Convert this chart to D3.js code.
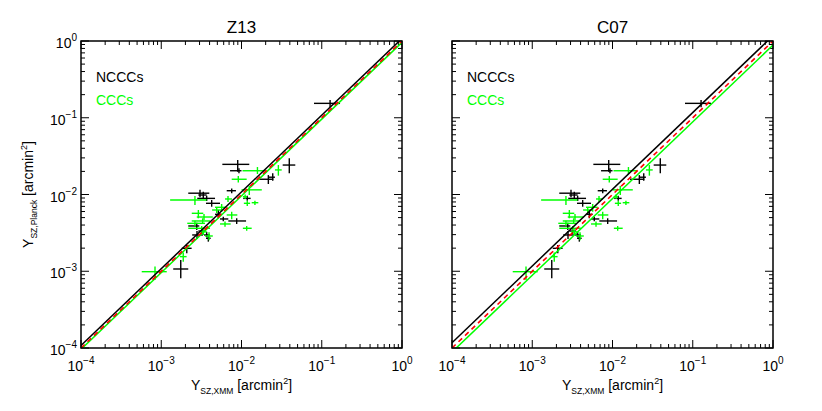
<!DOCTYPE html>
<html><head><meta charset="utf-8">
<script src="https://cdn.jsdelivr.net/npm/d3@7"></script>
<style>body{margin:0;background:#fff}svg{display:block}text{font-family:"Liberation Sans",Arial,sans-serif}</style>
</head><body><svg id="c" width="822" height="411"></svg>
<script>
// ---- data ----
const panelTitles = ["Z13", "C07"];
const ncccNorm = [1.08, 1.17];   // black best-fit normalisation per panel
const cccNorm  = [0.96, 0.885];  // green best-fit normalisation per panel
const tickExps = [-4, -3, -2, -1, 0];
const legendLabels = ["NCCCs", "CCCs"];

const ncccX   = [0.127, 8.97e-3, 9.3e-3, 3.94e-2, 2.16e-2, 2.45e-2, 7.55e-3, 3.04e-3, 3.34e-3, 3.68e-3, 4.25e-3, 1.18e-2, 5.14e-3, 5.93e-3, 8.71e-3, 2.77e-3, 3.19e-3, 3.68e-3, 3.86e-3, 2.79e-3, 2.08e-3, 1.75e-3];
const ncccXlo = [0.080, 5.77e-3, 7.2e-3, 3.26e-2, 1.65e-2, 2.16e-2, 6.54e-3, 2.17e-3, 2.9e-3, 2.81e-3, 3.61e-3, 1.05e-2, 4.68e-3, 5.4e-3, 6.85e-3, 2.17e-3, 2.9e-3, 3.41e-3, 3.61e-3, 2.43e-3, 1.80e-3, 1.41e-3];
const ncccXhi = [0.169, 1.25e-2, 1.0e-2, 4.68e-2, 2.49e-2, 2.61e-2, 8.53e-3, 3.97e-3, 3.68e-3, 4.68e-3, 5.4e-3, 1.30e-2, 5.66e-3, 6.85e-3, 1.14e-2, 2.98e-3, 3.51e-3, 4.05e-3, 4.13e-3, 3.31e-3, 2.39e-3, 2.17e-3];
const ncccY   = [0.154, 2.47e-2, 2.04e-2, 2.42e-2, 1.58e-2, 1.68e-2, 1.12e-2, 1.04e-2, 9.85e-3, 8.9e-3, 7.68e-3, 8.9e-3, 5.52e-3, 4.8e-3, 4.52e-3, 3.89e-3, 3.34e-3, 2.97e-3, 2.69e-3, 2.97e-3, 1.99e-3, 1.07e-3];
const ncccYlo = [0.137, 1.98e-2, 1.89e-2, 1.89e-2, 1.37e-2, 1.51e-2, 1.04e-2, 9.2e-3, 8.9e-3, 8.23e-3, 6.93e-3, 8.3e-3, 4.9e-3, 4.48e-3, 4.13e-3, 3.45e-3, 3.06e-3, 2.77e-3, 2.43e-3, 2.63e-3, 1.71e-3, 8.1e-4];
const ncccYhi = [0.170, 2.81e-2, 2.19e-2, 2.96e-2, 1.79e-2, 1.89e-2, 1.20e-2, 1.15e-2, 1.09e-2, 9.65e-3, 8.48e-3, 9.65e-3, 6.28e-3, 5.14e-3, 4.9e-3, 4.29e-3, 3.63e-3, 3.26e-3, 2.89e-3, 3.34e-3, 2.2e-3, 1.40e-3];

const cccX   = [1.58e-2, 2.88e-2, 9.12e-3, 2.63e-3, 1.25e-2, 1.11e-2, 1.18e-2, 1.47e-2, 5.66e-3, 4.91e-3, 2.9e-3, 7.55e-3, 3.28e-3, 2.63e-3, 6.23e-3, 1.16e-2, 3.19e-3, 3.34e-3, 1.88e-3, 8.36e-4, 3.41e-3, 3.94e-3, 6.79e-3];
const cccXlo = [1.03e-2, 2.61e-2, 7.55e-3, 1.29e-3, 1.0e-2, 1.04e-2, 1.07e-2, 1.34e-2, 4.68e-3, 4.3e-3, 2.4e-3, 6.54e-3, 2.4e-3, 2.11e-3, 5.4e-3, 1.04e-2, 2.17e-3, 3.04e-3, 1.71e-3, 5.71e-4, 2.77e-3, 3.51e-3, 6.23e-3];
const cccXhi = [2.02e-2, 3.17e-2, 1.16e-2, 3.68e-3, 1.79e-2, 1.18e-2, 1.28e-2, 1.62e-2, 6.54e-3, 5.55e-3, 3.34e-3, 8.87e-3, 4.05e-3, 3.51e-3, 7.33e-3, 1.34e-2, 4.05e-3, 3.68e-3, 2.07e-3, 1.17e-3, 4.39e-3, 4.39e-3, 7.62e-3];
const cccY   = [2.04e-2, 2.09e-2, 1.58e-2, 8.48e-3, 1.15e-2, 9.36e-3, 7.68e-3, 7.82e-3, 6.81e-3, 6.28e-3, 5.69e-3, 5.41e-3, 4.52e-3, 4.21e-3, 4.13e-3, 3.63e-3, 3.63e-3, 3.26e-3, 1.55e-3, 9.87e-4, 5.09e-3, 2.88e-3, 8.74e-3];
const cccYlo = [1.85e-2, 1.76e-2, 1.43e-2, 7.3e-3, 9.85e-3, 8.74e-3, 7.08e-3, 7.3e-3, 5.97e-3, 5.74e-3, 4.9e-3, 4.75e-3, 4.13e-3, 3.89e-3, 3.8e-3, 3.37e-3, 3.37e-3, 2.97e-3, 1.33e-3, 7.7e-4, 4.65e-3, 2.54e-3, 7.99e-3];
const cccYhi = [2.28e-2, 2.42e-2, 1.74e-2, 9.56e-3, 1.29e-2, 1.0e-2, 8.3e-3, 8.3e-3, 7.52e-3, 6.87e-3, 6.28e-3, 5.97e-3, 4.9e-3, 4.56e-3, 4.46e-3, 3.89e-3, 3.89e-3, 3.52e-3, 1.75e-3, 1.15e-3, 5.57e-3, 3.23e-3, 9.56e-3];

// ---- layout ----
const svg = d3.select("#c");
svg.append("rect").attr("width", 822).attr("height", 411).attr("fill", "#fff");
const panelLeft = [81, 452], pw = 321, plotTop = 41, ph = 307;
const GREEN = "#00ff00";

function makeSeries(X, Xlo, Xhi, Y, Ylo, Yhi) {
  return X.map((x, i) => ({x, xlo: Xlo[i], xhi: Xhi[i], y: Y[i], ylo: Ylo[i], yhi: Yhi[i]}));
}
const nccc = makeSeries(ncccX, ncccXlo, ncccXhi, ncccY, ncccYlo, ncccYhi);
const ccc = makeSeries(cccX, cccXlo, cccXhi, cccY, cccYlo, cccYhi);

function pow10Label(sel, e, size, supSize, supDy) {
  sel.append("tspan").text("10").attr("font-size", size);
  sel.append("tspan").text(e < 0 ? "\u2212" + (-e) : String(e)).attr("font-size", supSize).attr("dy", supDy);
}

panelTitles.forEach((title, p) => {
  const x0 = panelLeft[p];
  const x = d3.scaleLog().domain([1e-4, 1]).range([x0, x0 + pw]);
  const y = d3.scaleLog().domain([1e-4, 1]).range([plotTop + ph, plotTop]);
  const g = svg.append("g");
  const clipId = "clip" + p;
  svg.append("clipPath").attr("id", clipId).append("rect")
    .attr("x", x0).attr("y", plotTop).attr("width", pw).attr("height", ph);

  // ticks on all sides (inward)
  const allTicks = x.ticks(40);
  const isMajor = v => Math.abs(Math.log10(v) - Math.round(Math.log10(v))) < 1e-6;
  const tg = g.append("g").attr("stroke", "#000").attr("stroke-width", 1);
  allTicks.forEach(v => {
    const L = isMajor(v) ? 8 : 4;
    const xp = x(v), yp = y(v);
    tg.append("line").attr("x1", xp).attr("x2", xp).attr("y1", plotTop + ph).attr("y2", plotTop + ph - L);
    tg.append("line").attr("x1", xp).attr("x2", xp).attr("y1", plotTop).attr("y2", plotTop + L);
    tg.append("line").attr("y1", yp).attr("y2", yp).attr("x1", x0).attr("x2", x0 + L);
    tg.append("line").attr("y1", yp).attr("y2", yp).attr("x1", x0 + pw).attr("x2", x0 + pw - L);
  });

  // error-bar crosses
  const drawSeries = (data, color) => {
    const sg = g.append("g").attr("clip-path", `url(#${clipId})`).attr("stroke", color).attr("stroke-width", 1.4);
    data.forEach(d => {
      sg.append("line").attr("x1", x(d.xlo)).attr("x2", x(d.xhi)).attr("y1", y(d.y)).attr("y2", y(d.y));
      sg.append("line").attr("x1", x(d.x)).attr("x2", x(d.x)).attr("y1", y(d.ylo)).attr("y2", y(d.yhi));
    });
  };
  drawSeries(nccc, "#000");
  drawSeries(ccc, GREEN);

  // relations
  const lg = g.append("g").attr("clip-path", `url(#${clipId})`).attr("fill", "none");
  const rel = k => [[1e-4, k * 1e-4], [1, k]];
  const lineGen = d3.line().x(d => x(d[0])).y(d => y(d[1]));
  lg.append("path").attr("d", lineGen(rel(ncccNorm[p]))).attr("stroke", "#000").attr("stroke-width", 1.5);
  lg.append("path").attr("d", lineGen(rel(cccNorm[p]))).attr("stroke", GREEN).attr("stroke-width", 1.5);
  lg.append("path").attr("d", lineGen(rel(1))).attr("stroke", "#ff0000").attr("stroke-width", 1.6).attr("stroke-dasharray", "5,4");

  // frame
  g.append("rect").attr("x", x0).attr("y", plotTop).attr("width", pw).attr("height", ph)
    .attr("fill", "none").attr("stroke", "#000").attr("stroke-width", 1.5);

  // x tick labels
  tickExps.forEach(e => {
    const t = g.append("text").attr("x", x(Math.pow(10, e))).attr("y", 371).attr("text-anchor", "middle").attr("fill", "#000");
    pow10Label(t, e, 14, 10, -7);
  });
  // y tick labels (left panel only)
  if (p === 0) {
    tickExps.forEach(e => {
      const t = g.append("text").attr("x", x0 - 4).attr("y", y(Math.pow(10, e)) + 7).attr("text-anchor", "end").attr("fill", "#000");
      pow10Label(t, e, 14, 10, -7);
    });
    const yl = svg.append("text").attr("transform", `translate(33,${plotTop + ph / 2}) rotate(-90)`).attr("text-anchor", "middle");
    yl.append("tspan").text("Y").attr("font-size", 14);
    yl.append("tspan").text("SZ,Planck").attr("font-size", 8.5).attr("dy", 4);
    yl.append("tspan").text(" [arcmin").attr("font-size", 14).attr("dy", -4);
    yl.append("tspan").text("2").attr("font-size", 9).attr("dy", -6);
    yl.append("tspan").text("]").attr("font-size", 14).attr("dy", 6);
  }

  // x axis title
  const xl = g.append("text").attr("x", x0 + pw / 2).attr("y", 390).attr("text-anchor", "middle");
  xl.append("tspan").text("Y").attr("font-size", 14);
  xl.append("tspan").text("SZ,XMM").attr("font-size", 8.5).attr("dy", 4);
  xl.append("tspan").text(" [arcmin").attr("font-size", 14).attr("dy", -4);
  xl.append("tspan").text("2").attr("font-size", 9).attr("dy", -6);
  xl.append("tspan").text("]").attr("font-size", 14).attr("dy", 6);

  // title
  g.append("text").attr("x", x0 + pw / 2).attr("y", 33).attr("text-anchor", "middle")
    .attr("font-size", 17).text(title);

  // legend
  g.append("text").attr("x", x0 + 15).attr("y", 82).attr("font-size", 14).attr("fill", "#000").text(legendLabels[0]);
  g.append("text").attr("x", x0 + 15).attr("y", 105).attr("font-size", 14).attr("fill", GREEN).text(legendLabels[1]);
});
</script></body></html>
